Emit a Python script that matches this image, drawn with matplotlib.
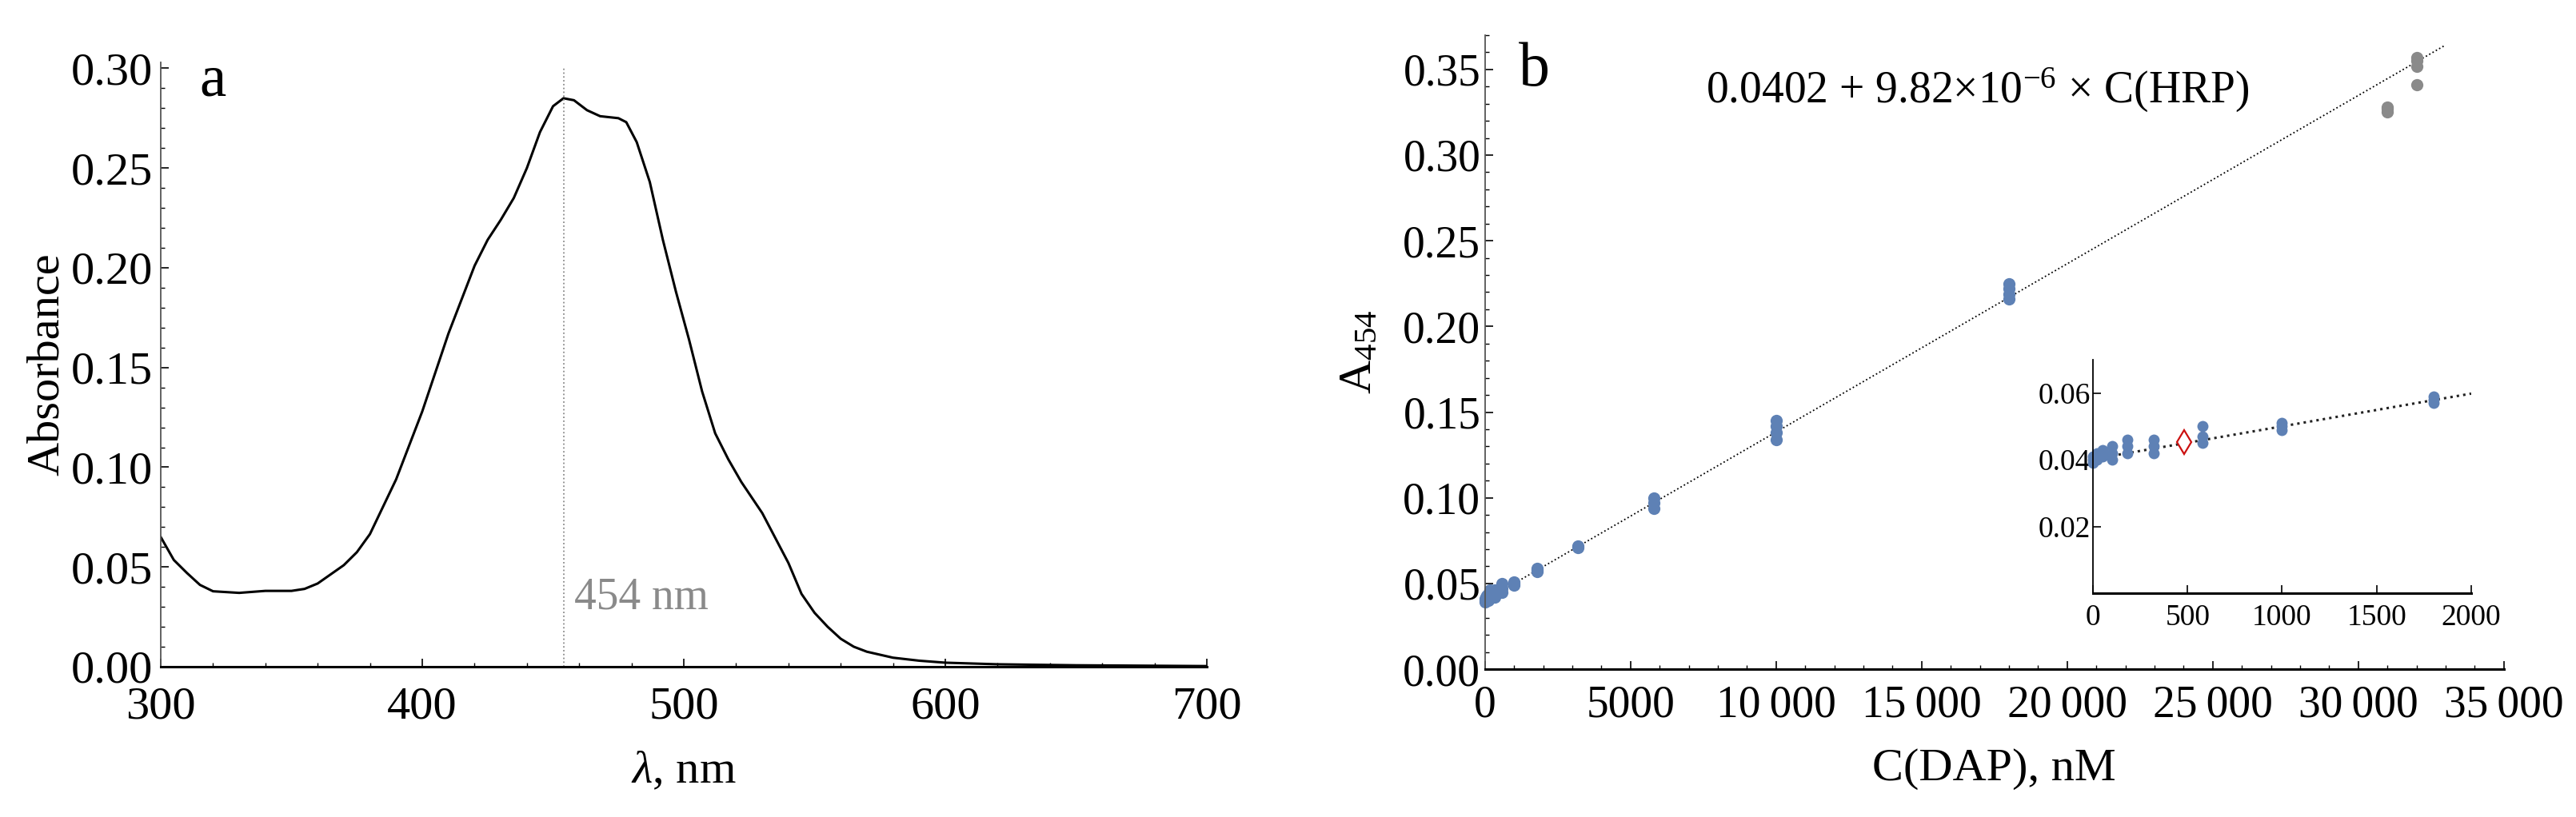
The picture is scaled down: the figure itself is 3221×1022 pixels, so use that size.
import matplotlib
matplotlib.use('Agg')
import matplotlib.pyplot as plt
from matplotlib.ticker import MultipleLocator

plt.rcParams['font.family'] = ['Liberation Serif', 'DejaVu Serif']
plt.rcParams['mathtext.fontset'] = 'custom'
plt.rcParams['mathtext.rm'] = 'Liberation Serif'
plt.rcParams['mathtext.it'] = 'Liberation Serif:italic'

# panel a: absorption spectrum
wl = [300, 305, 310, 315, 320, 330, 340, 350, 355, 360, 370, 375, 380, 390,
      400, 410, 420, 425, 430, 435, 440, 445, 450, 454, 458, 463, 468, 475,
      478, 482, 487, 492, 497, 502, 507, 512, 517, 522, 530, 540, 545, 550,
      555, 560, 565, 570, 580, 590, 600, 620, 650, 700]
absorb = [0.065, 0.0535, 0.047, 0.041, 0.0378, 0.037, 0.038, 0.038, 0.039,
          0.0417, 0.0509, 0.0574, 0.0665, 0.0939, 0.128, 0.167, 0.201, 0.214,
          0.224, 0.235, 0.250, 0.268, 0.281, 0.285, 0.284, 0.279, 0.276,
          0.275, 0.273, 0.263, 0.243, 0.214, 0.188, 0.164, 0.138, 0.117,
          0.104, 0.0926, 0.077, 0.052, 0.0365, 0.027, 0.020, 0.014, 0.010,
          0.0075, 0.0045, 0.003, 0.002, 0.0012, 0.0007, 0.0003]
peak_wl = 454

# panel b: calibration points
conc = [0, 0, 0, 20, 20, 50, 50, 100, 100, 100, 180, 180, 180, 320, 320, 320,
        580, 580, 580, 1000, 1000, 1000, 1800, 1800, 1800, 3200, 3200,
        5800, 5800, 5800, 10000, 10000, 10000, 10000,
        18000, 18000, 18000, 18000]
a454 = [0.039, 0.040, 0.041, 0.040, 0.042, 0.041, 0.043, 0.040, 0.042, 0.044,
        0.042, 0.044, 0.046, 0.042, 0.044, 0.046, 0.045, 0.047, 0.050,
        0.049, 0.050, 0.051, 0.057, 0.058, 0.059, 0.071, 0.072,
        0.094, 0.097, 0.100, 0.134, 0.138, 0.142, 0.145,
        0.216, 0.219, 0.222, 0.225]
conc_out = [31000, 31000, 31000, 32000, 32000, 32000, 32000]
a454_out = [0.325, 0.327, 0.328, 0.341, 0.352, 0.355, 0.357]
sample_conc = [480]
sample_a = [0.0452]
intercept = 0.0402
slope = 9.82e-6
fit_x = [0, 33000]
inset_fit_x = [0, 2000]

xticks_b = [0, 5000, 10000, 15000, 20000, 25000, 30000, 35000]
xticklabels_b = ['0', '5000', '10\u2009000', '15\u2009000', '20\u2009000',
                 '25\u2009000', '30\u2009000', '35\u2009000']

blue = '#5E81B5'
grey = '#8a8a8a'

fig = plt.figure(figsize=(32.21, 10.22), dpi=100)

def style_axes(ax, fs):
    for s in ['top', 'right']:
        ax.spines[s].set_visible(False)
    ax.spines['bottom'].set_linewidth(2.2)
    ax.spines['left'].set_linewidth(1.3)
    ax.spines['left'].set_color('#555555')
    ax.tick_params(which='both', direction='in', labelsize=fs)
    ax.tick_params(which='major', length=7, width=1.2)
    ax.tick_params(which='minor', length=3.5, width=1.0)

# ---- panel a ----
ax1 = fig.add_axes([0.0624, 0.184, 0.4061, 0.7397])
ax1.plot(wl, absorb, color='black', lw=2.2)
ax1.plot([peak_wl, peak_wl], [0, 0.30], color=grey, lw=1.3, ls=':')
ax1.text(peak_wl + 4, 0.029, '454 nm', color=grey, fontsize=40, ha='left', va='baseline')
ax1.set_xlim(300, 700)
ax1.set_ylim(0, 0.303)
ax1.set_xticks([300, 400, 500, 600, 700])
ax1.set_yticks([0, 0.05, 0.10, 0.15, 0.20, 0.25, 0.30])
ax1.set_yticklabels(['0.00', '0.05', '0.10', '0.15', '0.20', '0.25', '0.30'])
ax1.xaxis.set_minor_locator(MultipleLocator(20))
ax1.yaxis.set_minor_locator(MultipleLocator(0.01))
style_axes(ax1, 42)
ax1.tick_params(axis='x', pad=18)
ax1.tick_params(axis='y', pad=7)
ax1.set_xlabel(r'$\lambda$, nm', fontsize=42, va='center')
ax1.xaxis.set_label_coords(0.5, -0.173)
ax1.set_ylabel('Absorbance', fontsize=42, va='center')
ax1.yaxis.set_label_coords(-0.109, 0.5)
ax1.text(0.050, 0.968, 'a', transform=ax1.transAxes, fontsize=54, ha='center', va='center')

# ---- panel b ----
ax2 = fig.add_axes([0.5765, 0.181, 0.3955, 0.776])
ax2.plot(fit_x, [intercept + slope * x for x in fit_x], color='black', lw=1.3, ls=':')
ax2.plot(conc, a454, 'o', color=blue, ms=11, mec='none', clip_on=False)
ax2.plot(conc_out, a454_out, 'o', color=grey, ms=11, mec='none')
ax2.set_xlim(0, 35000)
ax2.set_ylim(0, 0.37)
ax2.set_xticks(xticks_b)
ax2.set_xticklabels(xticklabels_b)
ax2.set_yticks([0, 0.05, 0.10, 0.15, 0.20, 0.25, 0.30, 0.35])
ax2.set_yticklabels(['0.00', '0.05', '0.10', '0.15', '0.20', '0.25', '0.30', '0.35'])
ax2.xaxis.set_minor_locator(MultipleLocator(1000))
ax2.yaxis.set_minor_locator(MultipleLocator(0.01))
style_axes(ax2, 40)
ax2.tick_params(axis='x', pad=14)
ax2.tick_params(axis='y', pad=4)
ax2.set_xlabel('C(DAP), nM', fontsize=42, va='center')
ax2.xaxis.set_label_coords(0.5, -0.158)
ax2.set_ylabel(r'A$_{454}$', fontsize=42, va='center')
ax2.yaxis.set_label_coords(-0.123, 0.5)
ax2.text(0.048, 0.944, 'b', transform=ax2.transAxes, fontsize=56, ha='center', va='center')
ax2.text(0.4835, 0.913, r'0.0402 + 9.82$\times$10$^{-6}$ $\times$ C(HRP)',
         transform=ax2.transAxes, fontsize=40, ha='center', va='center')

# ---- inset ----
ax3 = fig.add_axes([0.8125, 0.274, 0.1468, 0.2857])
ax3.plot(inset_fit_x, [intercept + slope * x for x in inset_fit_x], color='#222222', lw=2.2, ls=':')
ax3.plot(conc, a454, 'o', color=blue, ms=10, mec='none', clip_on=False)
ax3.plot(sample_conc, sample_a, 'd', color='#cc1111', mfc='white', mew=1.6, ms=15)
ax3.set_xlim(0, 2000)
ax3.set_ylim(0, 0.07)
ax3.set_xticks([0, 500, 1000, 1500, 2000])
ax3.set_yticks([0.02, 0.04, 0.06])
ax3.set_yticklabels(['0.02', '0.04', '0.06'])
style_axes(ax3, 27)
ax3.spines['left'].set_color('black')
ax3.tick_params(axis='x', pad=10)
ax3.tick_params(axis='y', pad=2)

fig.savefig('out.png', dpi=100)
